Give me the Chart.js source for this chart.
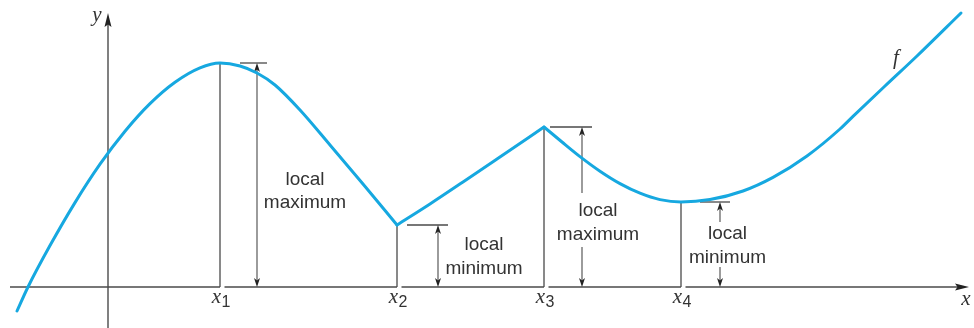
<!DOCTYPE html>
<html lang="en">
<head>
  <meta charset="UTF-8">
  <title>Local maxima and minima of f</title>
  <script src="https://cdn.jsdelivr.net/npm/chart.js"></script>
  <style>
    body {
      margin: 0;
      background-color: white;
    }

    canvas {
      display: block;
    }
  </style>
</head>
<body>
  <canvas id="grafico" width="974" height="328"></canvas>

  <script>
    // curve f, in three pieces (corners at x2 and x3)
    const leftX = [-4.55, -4.0, -2.9, -1.65, -0.4, 0.85, 2.1, 3.35, 4.6, 5.6, 6.6, 7.45, 8.35, 9.6, 11.1, 12.75, 14.45];
    const leftY = [-1.2, 0.0, 2.07, 4.22, 6.14, 7.79, 9.17, 10.24, 10.96, 11.2, 11.05, 10.7, 10.1, 8.85, 7.1, 5.15, 3.1];

    const midX = [14.45, 16.1, 17.75, 19.45, 21.8];
    const midY = [3.1, 4.15, 5.25, 6.4, 8.0];

    const rightX = [21.8, 22.7, 23.6, 24.6, 25.6, 26.6, 27.6, 28.65, 30.1, 31.75, 33.25, 34.95, 36.6, 37.25, 38.85, 40.45, 42.65];
    const rightY = [8.0, 7.25, 6.52, 5.79, 5.17, 4.69, 4.37, 4.25, 4.37, 4.8, 5.48, 6.55, 7.9, 8.53, 10.05, 11.55, 13.7];

    // the four extreme points x1..x4
    const extremaX = [5.6, 14.45, 21.8, 28.65];
    const extremaY = [11.2, 3.1, 8.0, 4.25];
    const extremaSub = ['1', '2', '3', '4'];
    const extremaKind = ['maximum', 'minimum', 'maximum', 'minimum'];

    // axes extent
    const axisX = [-4.9, 43.05];
    const axisY = [-2.05, 13.7];

    // where the notes sit (data units)
    const noteLayout = [
      { tick: [6.6, 7.95], arrowX: 7.45, textX: 9.85, textY: [5.1, 3.95], gap: null },
      { tick: [14.95, 17.0], arrowX: 16.5, textX: 18.8, textY: [1.85, 0.65], gap: null },
      { tick: [22.1, 24.2], arrowX: 23.7, textX: 24.5, textY: [3.575, 2.375], gap: [4.7, 2.0] },
      { tick: [29.6, 31.1], arrowX: 30.6, textX: 30.975, textY: [2.4, 1.2], gap: [3.25, 1.0] }
    ];

    const azul = '#16a8e0';
    const gris = '#4a4a4a';
    const sansFont = '"Liberation Sans", Arial, sans-serif';
    const serifFont = '"Liberation Serif", "DejaVu Serif", serif';

    function puntos(xs, ys) {
      return xs.map((v, i) => ({ x: v, y: ys[i] }));
    }

    function segmento(xs, ys) {
      return {
        data: puntos(xs, ys),
        borderColor: azul,
        borderWidth: 3,
        pointRadius: 0,
        fill: false,
        cubicInterpolationMode: 'monotone',
        borderCapStyle: 'round',
        borderJoinStyle: 'round'
      };
    }

    // arrow head with tip at (tx, ty), pointing along (dx, dy)
    function punta(ctx, tx, ty, dx, dy, largo, ancho) {
      const bx = tx - dx * largo, by = ty - dy * largo;
      const nx = tx - dx * (largo - 2.5), ny = ty - dy * (largo - 2.5);
      ctx.beginPath();
      ctx.moveTo(tx, ty);
      ctx.lineTo(bx - dy * ancho, by + dx * ancho);
      ctx.lineTo(nx, ny);
      ctx.lineTo(bx + dy * ancho, by - dx * ancho);
      ctx.closePath();
      ctx.fill();
    }

    function linea(ctx, x1, y1, x2, y2) {
      ctx.beginPath();
      ctx.moveTo(x1, y1);
      ctx.lineTo(x2, y2);
      ctx.stroke();
    }

    const notas = {
      id: 'notas',
      beforeDatasetsDraw(chart) {
        const ctx = chart.ctx;
        const sx = chart.scales.x, sy = chart.scales.y;
        const px = v => sx.getPixelForValue(v);
        const py = v => sy.getPixelForValue(v);
        const y0 = py(0);

        ctx.save();
        ctx.strokeStyle = gris;
        ctx.fillStyle = '#222';
        ctx.lineWidth = 1.4;

        // x axis, broken just right of each vertical line
        let desde = px(axisX[0]);
        extremaX.forEach(v => {
          linea(ctx, desde, y0, px(v), y0);
          desde = px(v) + 4.5;
        });
        linea(ctx, desde, y0, px(axisX[1]) - 8, y0);
        punta(ctx, px(axisX[1]), y0, 1, 0, 14, 3.5);

        // y axis
        linea(ctx, px(0), py(axisY[0]), px(0), py(axisY[1]) + 8);
        punta(ctx, px(0), py(axisY[1]), 0, -1, 14, 3.5);

        // vertical lines from the axis up to the curve
        ctx.lineWidth = 1.3;
        extremaX.forEach((v, i) => {
          linea(ctx, px(v), y0, px(v), py(extremaY[i]));
        });

        // local maximum / minimum notes
        noteLayout.forEach((n, i) => {
          const top = py(extremaY[i]);
          const ax = px(n.arrowX);
          ctx.strokeStyle = gris;
          ctx.lineWidth = 1.3;
          linea(ctx, px(n.tick[0]), top, px(n.tick[1]), top);

          ctx.lineWidth = 1.1;
          if (n.gap) {
            linea(ctx, ax, top + 6, ax, py(n.gap[0]));
            linea(ctx, ax, py(n.gap[1]), ax, y0 - 6);
          } else {
            linea(ctx, ax, top + 6, ax, y0 - 6);
          }
          ctx.fillStyle = '#222';
          punta(ctx, ax, top, 0, -1, 9, 3);
          punta(ctx, ax, y0, 0, 1, 9, 3);

          ctx.fillStyle = '#333';
          ctx.font = '19px ' + sansFont;
          ctx.textAlign = 'center';
          ctx.textBaseline = 'alphabetic';
          ctx.fillText('local', px(n.textX), py(n.textY[0]));
          ctx.fillText(extremaKind[i], px(n.textX), py(n.textY[1]));
        });

        // x1..x4 labels
        ctx.fillStyle = '#333';
        extremaX.forEach((v, i) => {
          ctx.font = 'italic 21px ' + serifFont;
          ctx.textAlign = 'right';
          ctx.fillText('x', px(v) + 1, y0 + 16);
          ctx.font = '16px ' + sansFont;
          ctx.textAlign = 'left';
          ctx.fillText(extremaSub[i], px(v) + 1.5, y0 + 20);
        });

        // axis names and f
        ctx.font = 'italic 21px ' + serifFont;
        ctx.textAlign = 'center';
        ctx.fillText('x', px(axisX[1]) - 3, y0 + 18);
        ctx.fillText('y', px(0) - 11, py(axisY[1]) + 8);
        ctx.fillText('f', px(39.4), py(11.15));

        ctx.restore();
      }
    };

    const chart = new Chart(document.getElementById('grafico').getContext('2d'), {
      type: 'line',
      data: {
        datasets: [
          segmento(leftX, leftY),
          segmento(midX, midY),
          segmento(rightX, rightY)
        ]
      },
      options: {
        responsive: false,
        devicePixelRatio: 1,
        animation: false,
        events: [],
        layout: { padding: 0 },
        plugins: {
          legend: { display: false },
          tooltip: { enabled: false }
        },
        scales: {
          x: { type: 'linear', min: -5.4, max: 43.3, display: false },
          y: { type: 'linear', min: -2.05, max: 14.35, display: false }
        }
      },
      plugins: [notas]
    });
  </script>
</body>
</html>
